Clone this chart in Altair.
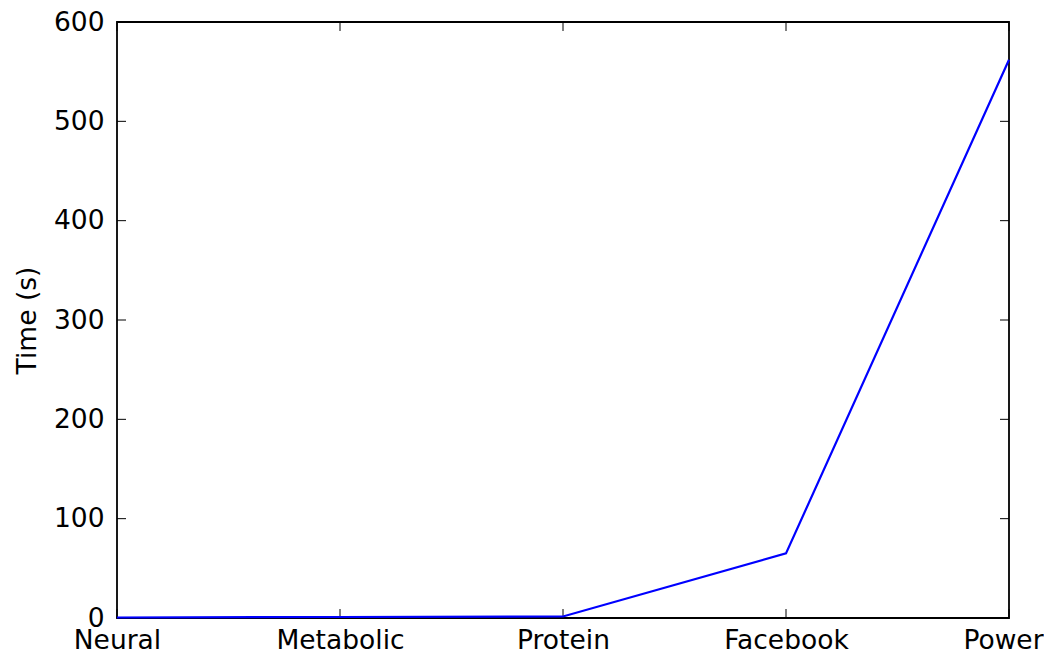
import altair as alt
import pandas as pd

categories = ["Neural", "Metabolic", "Protein", "Facebook", "Power"]
times = [0.5, 1.0, 1.5, 65, 562]
y_ticks = [0, 100, 200, 300, 400, 500, 600]

W, H = 892, 596
FONT = "DejaVu Sans"
FS = 26.5
TICK = 9

df = pd.DataFrame({"cat": categories, "time": times})
cat_df = pd.DataFrame({"cat": categories})
ytick_df = pd.DataFrame({"v": y_ticks})

xenc = alt.X("cat:N", sort=categories,
             scale=alt.Scale(type="point", padding=0),
             axis=alt.Axis(title=None, labelAngle=0, labelFont=FONT, labelFontSize=FS,
                           labelColor="black", tickSize=0, domain=False,
                           labelPadding=9, labelOverlap=False, labelBound=False,
                           labelFlush=False, labelAlign="center", labelBaseline="top",
                           labelOffset={"condition": {"test": "datum.value === 'Power'",
                                                      "value": -6},
                                        "value": 0}))
yenc = alt.Y("time:Q", scale=alt.Scale(domain=[0, 600], nice=False, zero=True),
             axis=alt.Axis(title="Time (s)", values=y_ticks, labelFont=FONT,
                           labelFontSize=FS, labelColor="black", tickSize=0,
                           domain=False, grid=False, labelPadding=13,
                           titleFont=FONT, titleFontSize=FS, titleFontWeight="normal",
                           titleColor="black", titleX=-90, titleBaseline="middle"))

line = alt.Chart(df).mark_line(color="#0000ff", strokeWidth=2.2).encode(x=xenc, y=yenc)

xt_bottom = alt.Chart(cat_df).mark_rule(color="black", strokeWidth=1).encode(
    x=alt.X("cat:N", sort=categories), y=alt.value(H), y2=alt.value(H - TICK))
xt_top = alt.Chart(cat_df).mark_rule(color="black", strokeWidth=1).encode(
    x=alt.X("cat:N", sort=categories), y=alt.value(0), y2=alt.value(TICK))
yt_left = alt.Chart(ytick_df).mark_rule(color="black", strokeWidth=1).encode(
    y=alt.Y("v:Q"), x=alt.value(0), x2=alt.value(TICK))
yt_right = alt.Chart(ytick_df).mark_rule(color="black", strokeWidth=1).encode(
    y=alt.Y("v:Q"), x=alt.value(W), x2=alt.value(W - TICK))

chart = alt.layer(xt_bottom, xt_top, yt_left, yt_right, line).properties(
    width=W, height=H,
    background="white",
    autosize=alt.AutoSizeParams(type="none"),
    padding={"left": 109, "top": 14, "right": 35, "bottom": 40},
).configure_view(stroke="black", strokeWidth=1.8)

chart.save("out.html", embed_options={"renderer": "svg", "actions": False})
